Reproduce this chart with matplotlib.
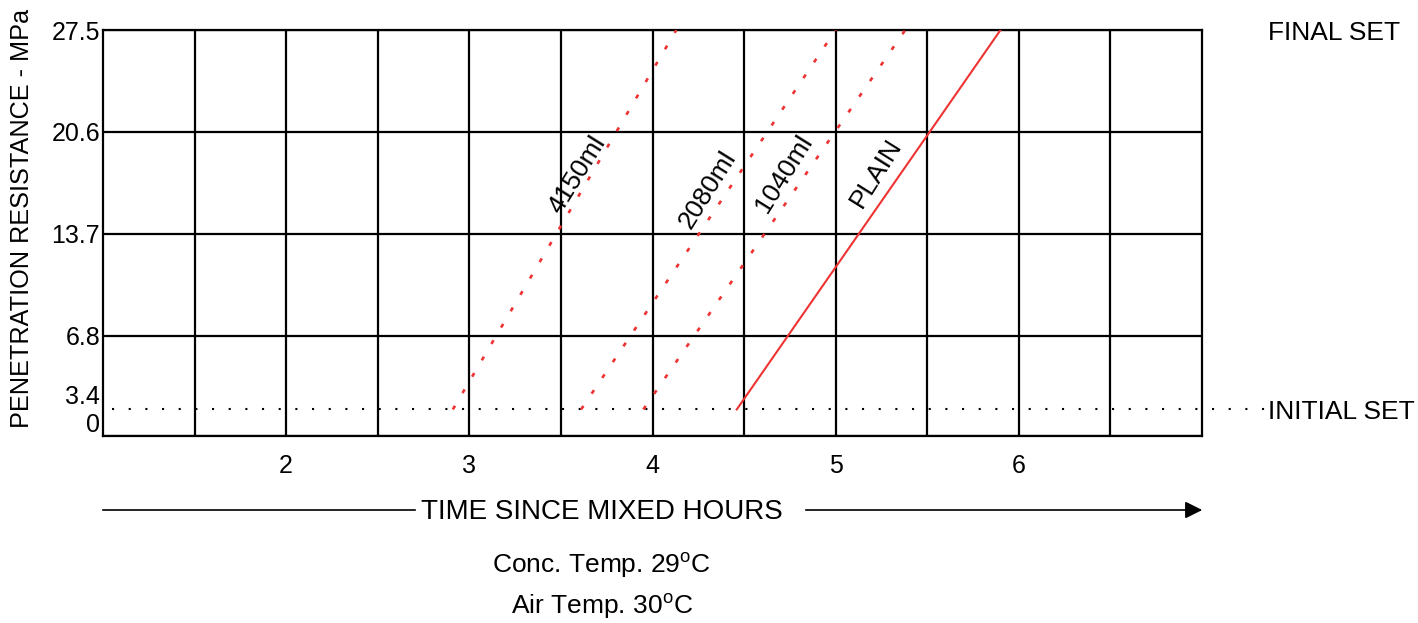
import matplotlib
matplotlib.use("Agg")
import matplotlib.pyplot as plt
from matplotlib.patches import FancyArrowPatch
from matplotlib.lines import Line2D

plt.rcParams['font.family'] = ['Liberation Sans', 'DejaVu Sans']

# ---- data ----
series_names = ["4150ml", "2080ml", "1040ml", "PLAIN"]
start_hours = [2.91, 3.61, 3.95, 4.46]      # time at initial set
end_hours = [4.13, 5.00, 5.38, 5.90]        # time at final set
initial_set_mpa = 1.8
final_set_mpa = 27.5
label_pos_x = [3.59, 4.30, 4.72, 5.22]
label_pos_y = [17.7, 16.7, 17.8, 17.8]

x_tick_vals = [2, 3, 4, 5, 6]
x_tick_labels = ["2", "3", "4", "5", "6"]
y_grid_vals = [0, 6.8, 13.7, 20.6, 27.5]
y_tick_vals = [0.9, 2.8, 6.8, 13.7, 20.6, 27.5]
y_tick_labels = ["0", "3.4", "6.8", "13.7", "20.6", "27.5"]
x_grid_vals = [1.5, 2, 2.5, 3, 3.5, 4, 4.5, 5, 5.5, 6, 6.5]

W, H = 1418, 623
FS = 19
fig = plt.figure(figsize=(W / 100, H / 100), dpi=100)
ax = fig.add_axes([103 / W, 1 - 436 / H, (1202 - 103) / W, (436 - 30) / H])
ax.set_xlim(1, 7)
ax.set_ylim(0, 27.5)

for xv in x_grid_vals:
    ax.axvline(xv, color='black', lw=1.6, zorder=1)
for yv in y_grid_vals:
    ax.axhline(yv, color='black', lw=1.6, zorder=1)
for s in ax.spines.values():
    s.set_linewidth(1.6)

# initial set dotted line (extends past axes)
ax.plot([1.05, 7.38], [initial_set_mpa, initial_set_mpa], color='black', lw=1.5,
        linestyle=(0, (1, 7)), clip_on=False, zorder=2)

red = '#ee3333'
for i, name in enumerate(series_names):
    if name == "PLAIN":
        ax.plot([start_hours[i], end_hours[i]], [initial_set_mpa, final_set_mpa],
                color=red, lw=1.5, linestyle='-', zorder=3)
    else:
        ax.plot([start_hours[i], end_hours[i]], [initial_set_mpa, final_set_mpa],
                color=red, lw=1.9, linestyle=(0, (1.6, 5.6)), zorder=3)
    ax.text(label_pos_x[i], label_pos_y[i], name, rotation=58, fontsize=FS,
            ha='center', va='center', rotation_mode='anchor', zorder=4)

ax.set_xticks(x_tick_vals)
ax.set_xticklabels(x_tick_labels, fontsize=18)
ax.set_yticks(y_tick_vals)
ax.set_yticklabels(y_tick_labels, fontsize=18)
ax.tick_params(axis='both', length=0)
ax.tick_params(axis='x', pad=13)
ax.tick_params(axis='y', pad=2)

fig.text(22 / W, 1 - 218 / H, "PENETRATION RESISTANCE - MPa", rotation=90,
         fontsize=18.2, ha='center', va='center')
fig.text(1268 / W, 1 - 33 / H, "FINAL SET", fontsize=FS, ha='left', va='center')
fig.text(1268 / W, 1 - 412 / H, "INITIAL SET", fontsize=FS, ha='left', va='center')
fig.text(602 / W, 1 - 512 / H, "TIME SINCE MIXED HOURS", fontsize=20, ha='center', va='center')
fig.text(601 / W, 1 - 565 / H, r"Conc. Temp. 29$^\mathregular{o}$C", fontsize=FS, ha='center', va='center')
fig.text(602 / W, 1 - 606 / H, r"Air Temp. 30$^\mathregular{o}$C", fontsize=FS, ha='center', va='center')

fig.add_artist(Line2D([103 / W, 415 / W], [1 - 510 / H, 1 - 510 / H],
                      transform=fig.transFigure, color='black', lw=1.2))
fig.add_artist(FancyArrowPatch((803 / W, 1 - 510 / H), (1205 / W, 1 - 510 / H),
                               transform=fig.transFigure, arrowstyle='-|>',
                               mutation_scale=26, color='black', lw=1.2))

fig.savefig("out.png", dpi=100, facecolor='white')
